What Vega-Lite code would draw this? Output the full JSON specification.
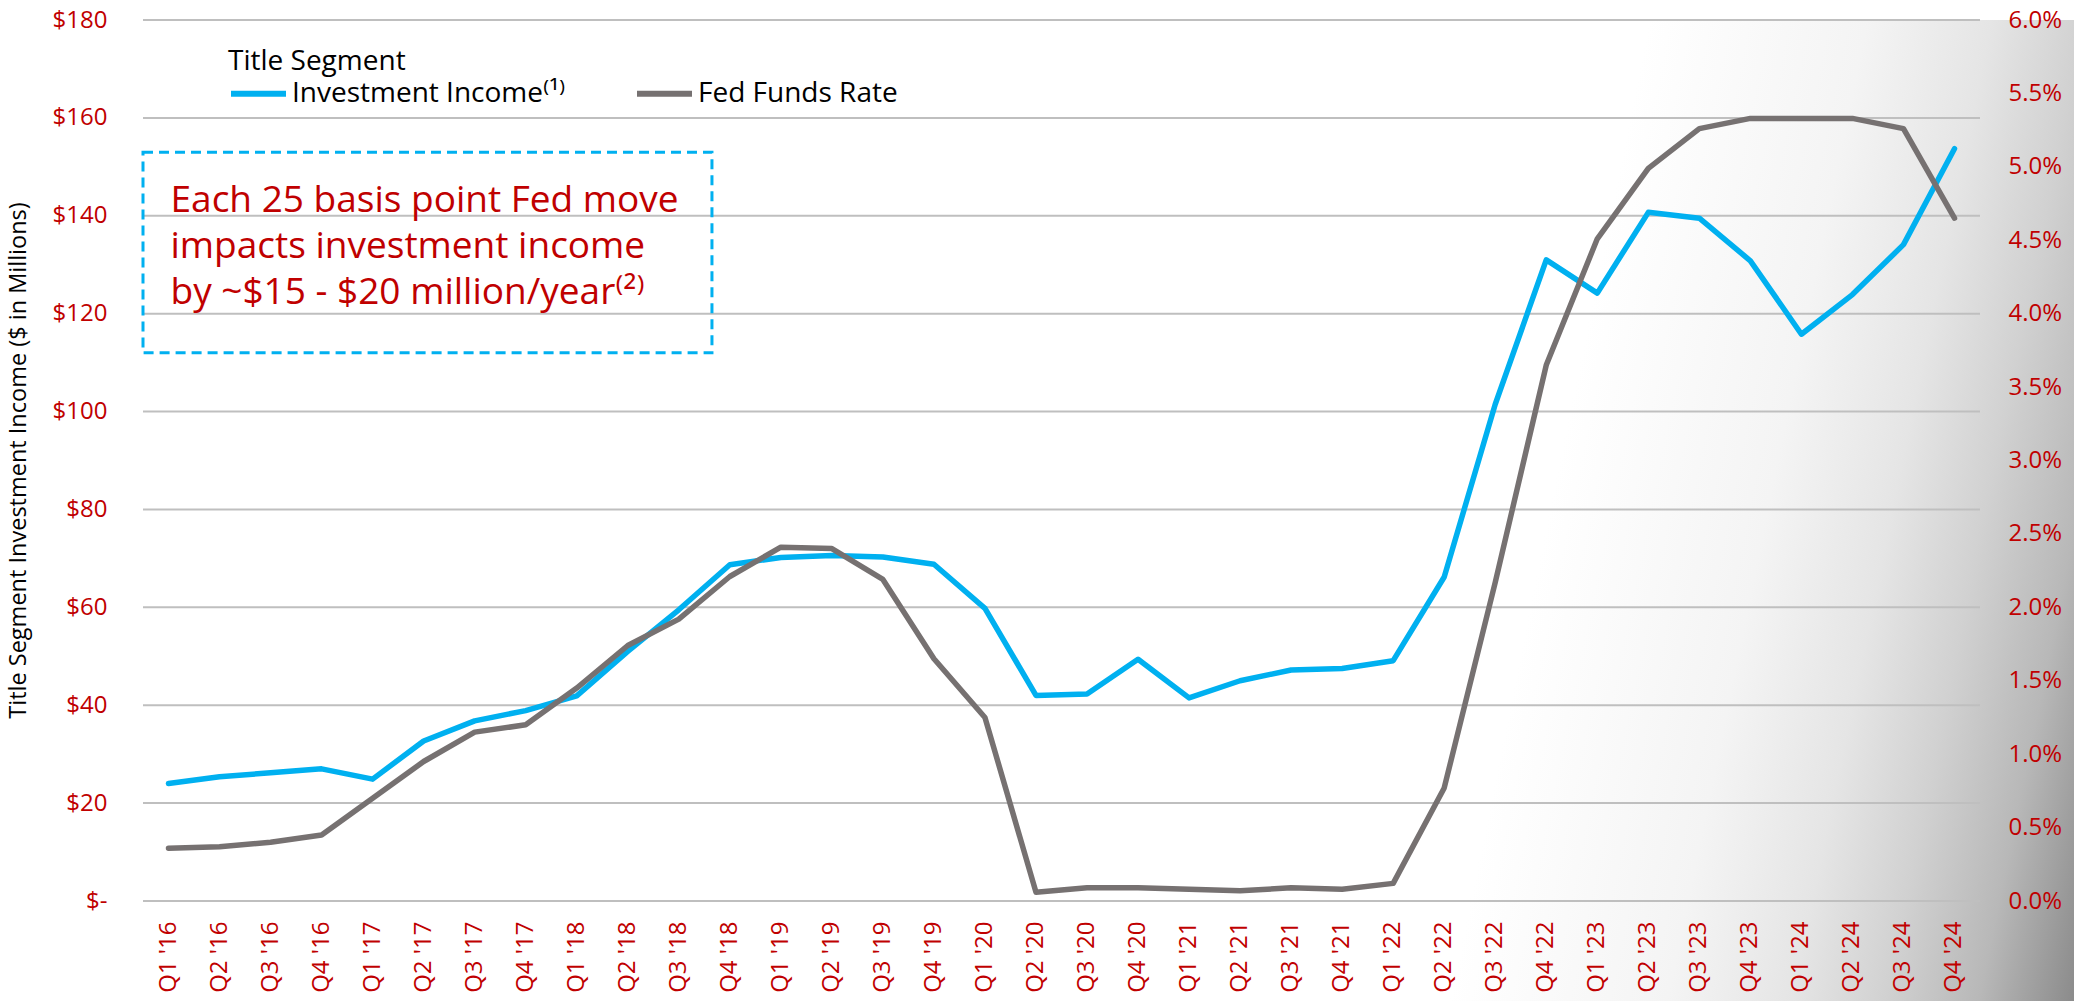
{
  "$schema": "https://vega.github.io/schema/vega-lite/v6.json",
  "width": 1931,
  "height": 981,
  "autosize": {"type": "none"},
  "padding": {"left": 143, "top": 20, "right": 0, "bottom": 0},
  "background": "#ffffff",
  "config": {"view": {"stroke": null}},
  "data": {"values": [
    {"quarter": "Q1 '16", "income": 24.0, "fed": 0.36},
    {"quarter": "Q2 '16", "income": 25.4, "fed": 0.37},
    {"quarter": "Q3 '16", "income": 26.2, "fed": 0.40},
    {"quarter": "Q4 '16", "income": 27.0, "fed": 0.45},
    {"quarter": "Q1 '17", "income": 24.9, "fed": 0.70},
    {"quarter": "Q2 '17", "income": 32.7, "fed": 0.95},
    {"quarter": "Q3 '17", "income": 36.8, "fed": 1.15},
    {"quarter": "Q4 '17", "income": 38.9, "fed": 1.20},
    {"quarter": "Q1 '18", "income": 41.9, "fed": 1.45},
    {"quarter": "Q2 '18", "income": 51.0, "fed": 1.74},
    {"quarter": "Q3 '18", "income": 59.5, "fed": 1.92},
    {"quarter": "Q4 '18", "income": 68.7, "fed": 2.21},
    {"quarter": "Q1 '19", "income": 70.2, "fed": 2.41},
    {"quarter": "Q2 '19", "income": 70.6, "fed": 2.40},
    {"quarter": "Q3 '19", "income": 70.3, "fed": 2.19},
    {"quarter": "Q4 '19", "income": 68.8, "fed": 1.65},
    {"quarter": "Q1 '20", "income": 59.8, "fed": 1.25},
    {"quarter": "Q2 '20", "income": 42.0, "fed": 0.06},
    {"quarter": "Q3 '20", "income": 42.3, "fed": 0.09},
    {"quarter": "Q4 '20", "income": 49.4, "fed": 0.09},
    {"quarter": "Q1 '21", "income": 41.5, "fed": 0.08},
    {"quarter": "Q2 '21", "income": 45.0, "fed": 0.07},
    {"quarter": "Q3 '21", "income": 47.2, "fed": 0.09},
    {"quarter": "Q4 '21", "income": 47.5, "fed": 0.08},
    {"quarter": "Q1 '22", "income": 49.1, "fed": 0.12},
    {"quarter": "Q2 '22", "income": 66.2, "fed": 0.77},
    {"quarter": "Q3 '22", "income": 101.5, "fed": 2.17},
    {"quarter": "Q4 '22", "income": 131.0, "fed": 3.65},
    {"quarter": "Q1 '23", "income": 124.2, "fed": 4.51},
    {"quarter": "Q2 '23", "income": 140.7, "fed": 4.99},
    {"quarter": "Q3 '23", "income": 139.5, "fed": 5.26},
    {"quarter": "Q4 '23", "income": 130.8, "fed": 5.33},
    {"quarter": "Q1 '24", "income": 115.8, "fed": 5.33},
    {"quarter": "Q2 '24", "income": 123.9, "fed": 5.33},
    {"quarter": "Q3 '24", "income": 134.1, "fed": 5.26},
    {"quarter": "Q4 '24", "income": 153.7, "fed": 4.65}
  ]},
  "layer": [
    {
      "data": {"values": [{}]},
      "mark": {"type": "rect", "fill": {"gradient": "linear", "x1": 0.78, "y1": 0, "x2": 1.099, "y2": 0.033, "stops": [
        {"offset": 0, "color": "#ffffff"},
        {"offset": 0.35, "color": "#f4f4f4"},
        {"offset": 0.55, "color": "#e5e5e5"},
        {"offset": 0.7, "color": "#d1d1d1"},
        {"offset": 0.85, "color": "#b8b8b8"},
        {"offset": 1, "color": "#8c8c8c"}
      ]}},
      "encoding": {}
    },
    {
      "layer": [
        {
          "data": {"values": [{"grid": 0}, {"grid": 20}, {"grid": 40}, {"grid": 60}, {"grid": 80}, {"grid": 100}, {"grid": 120}, {"grid": 140}, {"grid": 160}, {"grid": 180}]},
          "mark": {"type": "rule", "color": "#BFBFBF", "strokeWidth": 2},
          "encoding": {
            "x": {"datum": "Q1 '16", "type": "ordinal", "bandPosition": 0},
            "x2": {"datum": "Q4 '24", "bandPosition": 1},
            "y": {"field": "grid", "type": "quantitative"}
          }
        },
        {
          "data": {"values": [{}]},
          "mark": {"type": "rect", "fill": null, "stroke": "#00B0F0", "strokeWidth": 3, "strokeDash": [10, 6]},
          "encoding": {
            "x": {"datum": "Q1 '16", "type": "ordinal", "bandPosition": 0},
            "x2": {"datum": "Q4 '18", "bandPosition": 0.15},
            "y": {"datum": 153, "type": "quantitative"},
            "y2": {"datum": 112}
          }
        },
        {
          "data": {"values": [{}]},
          "mark": {"type": "text", "text": ["Each 25 basis point Fed move", "impacts investment income", "by ~$15 - $20 million/year⁽²⁾"], "font": "Open Sans", "fontSize": 37, "lineHeight": 46, "color": "#C00000", "align": "left", "baseline": "alphabetic", "dx": 2},
          "encoding": {
            "x": {"datum": "Q1 '16", "type": "ordinal", "bandPosition": 0.5},
            "y": {"datum": 140.8, "type": "quantitative"}
          }
        },
        {
          "mark": {"type": "line", "strokeWidth": 5.5, "strokeCap": "round", "strokeJoin": "round"},
          "encoding": {
            "x": {
              "field": "quarter", "type": "ordinal", "bandPosition": 0.5,
              "scale": {"type": "band", "paddingInner": 0, "paddingOuter": 0, "range": [0, 1837], "domain": ["Q1 '16","Q2 '16","Q3 '16","Q4 '16","Q1 '17","Q2 '17","Q3 '17","Q4 '17","Q1 '18","Q2 '18","Q3 '18","Q4 '18","Q1 '19","Q2 '19","Q3 '19","Q4 '19","Q1 '20","Q2 '20","Q3 '20","Q4 '20","Q1 '21","Q2 '21","Q3 '21","Q4 '21","Q1 '22","Q2 '22","Q3 '22","Q4 '22","Q1 '23","Q2 '23","Q3 '23","Q4 '23","Q1 '24","Q2 '24","Q3 '24","Q4 '24"]},
              "axis": {"title": null, "offset": -100, "zindex": 1, "labelAngle": -90, "labelFont": "Open Sans", "labelFontSize": 24, "labelColor": "#C00000", "labelPadding": 20, "labelOverlap": false, "ticks": false, "domain": false, "grid": false}
            },
            "y": {
              "field": "income", "type": "quantitative",
              "scale": {"domain": [0, 180], "nice": false, "zero": true, "range": [881, 0]},
              "axis": {
                "zindex": 1,
                "title": "Title Segment Investment Income ($ in Millions)",
                "titleFont": "Open Sans", "titleFontSize": 23.5, "titleFontWeight": "normal", "titleColor": "#000000", "titlePadding": 22, "titleY": 440,
                "values": [0, 20, 40, 60, 80, 100, 120, 140, 160, 180],
                "labelExpr": "datum.value == 0 ? '$-' : '$' + format(datum.value, 'd')",
                "labelFont": "Open Sans", "labelFontSize": 24, "labelColor": "#C00000", "labelPadding": 36,
                "grid": false, "ticks": false, "domain": false
              }
            },
            "color": {
              "datum": "Title Segment Investment Income",
              "scale": {"domain": ["Title Segment Investment Income", "Fed Funds Rate"], "range": ["#00B0F0", "#767171"]},
              "legend": {
                "title": "\u00a0\u00a0\u00a0\u00a0\u00a0\u00a0\u00a0\u00a0Title Segment", "titleOrient": "top", "titleAnchor": "start", "titleAlign": "left",
                "titleFont": "Open Sans", "titleFontSize": 28, "titleFontWeight": "normal", "titleColor": "#000000", "titlePadding": -13,
                "orient": "none", "legendX": 85, "legendY": 28, "padding": 0, "direction": "horizontal",
                "symbolType": "stroke", "symbolSize": 3025, "symbolStrokeWidth": 6,
                "labelFont": "Open Sans", "labelFontSize": 28, "labelColor": "#000000", "labelLimit": 600, "labelOffset": 3,
                "columnPadding": 59,
                "labelExpr": "datum.label == 'Fed Funds Rate' ? 'Fed Funds Rate' : 'Investment Income⁽¹⁾'"
              }
            }
          }
        }
      ]
    },
    {
      "mark": {"type": "line", "strokeWidth": 5.5, "strokeCap": "round", "strokeJoin": "round"},
      "encoding": {
        "x": {"field": "quarter", "type": "ordinal", "bandPosition": 0.5},
        "y": {
          "field": "fed", "type": "quantitative",
          "scale": {"domain": [0, 6], "nice": false, "range": [881, 0]},
          "axis": {
            "orient": "right", "title": null, "offset": -94, "zindex": 1,
            "values": [0, 0.5, 1, 1.5, 2, 2.5, 3, 3.5, 4, 4.5, 5, 5.5, 6],
            "labelExpr": "format(datum.value, '.1f') + '%'",
            "labelFont": "Open Sans", "labelFontSize": 24, "labelColor": "#C00000", "labelPadding": 28,
            "grid": false, "ticks": false, "domain": false
          }
        },
        "color": {"datum": "Fed Funds Rate"}
      }
    }
  ],
  "resolve": {"scale": {"y": "independent"}}
}
